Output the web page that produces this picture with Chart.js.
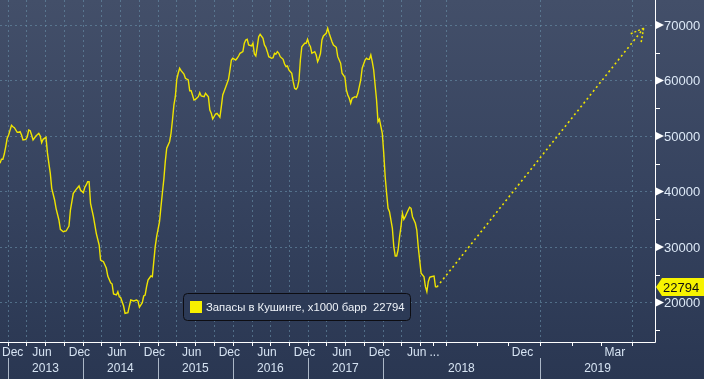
<!DOCTYPE html>
<html lang="ru">
<head>
<meta charset="UTF-8">
<title>Cushing stocks</title>
<script src="https://cdn.jsdelivr.net/npm/chart.js@4/dist/chart.umd.min.js"></script>
<style>
  html, body { margin: 0; padding: 0; background: #2b3954; }
  canvas { display: block; }
</style>
</head>
<body>
<canvas id="chart" width="704" height="379"></canvas>
<script>
// weekly stocks, week 0 = 2012-11-23
const firstWeek = '2012-11-23';
const weeks = [0,1,2,3,4,5,6,8,9,10,12,13,14,15,16,18,19,20,21,22,23,25,27,28,29,30,32,33,34,35,36,38,39,41,42,44,46,48,49,51,53,55,56,58,59,60,61,62,63,65,67,69,70,72,74,75,77,78,79,81,82,83,84,86,87,89,90,91,93,95,96,97,99,100,101,102,103,105,106,107,108,109,111,112,113,114,115,116,118,119,120,121,122,123,124,125,126,128,129,131,132,133,135,136,138,139,140,142,143,145,146,147,148,150,151,153,154,155,157,158,159,160,161,162,164,165,166,167,169,170,171,172,173,175,176,177,178,179,180,181,183,184,185,186,187,189,190,191,192,193,194,195,197,198,199,200,201,203,204,205,206,207,208,209,210,212,213,214,215,216,217,219,220,221,222,223,224,225,227,228,229,231,232,234,235,237,238,240,241,242,243,244,245,247,248,249,250,251,252,254,255,256,257,258,259,260,261,262,263,264,266,267,268,269,270,271,273,274,275,276,277,278,279,280,281,282,283,285,286,287,289,290,291,292,293,295,296,297,298,299,300,302,303,304];
const stocks = [45080,45800,45800,46750,48070,49580,50180,51930,51670,51490,50670,50670,50770,50180,49280,49400,49870,51080,50950,50180,49280,50000,50480,50000,48790,49400,49760,46990,45080,43280,40570,38470,36970,34860,33190,32750,32880,33780,36660,39670,40390,40990,40270,39780,40750,41170,41760,41760,37870,35460,32460,30360,27650,27350,26160,24770,23560,23330,21530,21350,21940,21040,20860,19360,18050,18160,19360,20450,20270,20450,20270,19130,19960,21170,21350,22840,24050,24770,24640,27350,30050,31850,34560,37260,39780,42200,45370,47780,48970,50480,52880,55580,57080,60220,61300,62200,61770,61170,60400,60090,58160,58160,56490,56610,57080,57800,57210,57080,57690,57080,54680,54090,53060,53960,54090,53370,55280,57390,58770,59490,60220,61890,63690,64000,63690,64000,64410,64900,65190,66700,67300,67420,66400,66220,66700,64770,64410,66090,67890,68320,67600,66400,65980,65190,64290,64000,64110,64900,64770,65190,64900,64290,63820,62970,62490,62610,61890,61300,59780,58590,58410,58770,59960,63690,66090,66700,66700,67420,66580,66090,64900,65190,64590,63390,64000,64900,67300,68020,68500,69400,68500,66990,66400,65980,64290,63100,61300,60580,58290,57390,56790,55890,56790,57080,56970,57690,58880,60090,62200,63690,64000,63820,63820,64590,63390,61890,59190,56490,52580,53010,50480,46880,42660,39670,36970,36360,33370,30050,28370,28370,29460,31850,33650,36070,34990,35460,36070,37150,36970,35460,34270,33060,30050,27650,25260,24640,22840,21940,23740,24540,24640,24770,22840,22794];

// dotted projection
const targetDate = '2019-04-12';
const targetValue = 69400;

const seriesName = 'Запасы в Кушинге, x1000 барр';
const yMajor = [20000, 30000, 40000, 50000, 60000, 70000];
const yMinor = [15000, 25000, 35000, 45000, 55000, 65000];
const monthLabels = ['Dec', 'Jun', 'Dec', 'Jun', 'Dec', 'Jun', 'Dec', 'Jun', 'Dec', 'Jun', 'Dec', 'Jun', 'Dec', 'Mar'];
const monthLabelDates = ['2012-12-15', '2013-06-15', '2013-12-15', '2014-06-15', '2014-12-15', '2015-06-15', '2015-12-15',
  '2016-06-15', '2016-12-15', '2017-06-15', '2017-12-15', '2018-06-15', '2018-12-15', '2019-03-15'];
const years = ['2013', '2014', '2015', '2016', '2017', '2018', '2019'];
const extraTickDates = ['2018-09-01', '2018-11-01', '2018-12-01', '2019-02-01', '2019-03-01'];

const yellow = '#efe400';

// axis: history months up to the break, wider spacing after it
const DAY = 86400000;
const dayNum = s => Date.parse(s + 'T00:00:00Z') / DAY;
const histStart = dayNum('2013-01-01');
const breakDay = dayNum('2018-10-01');
function axisPos(d) {
  return d < breakDay ? (d - histStart) / 30.44 : 70 + (d - breakDay) / 30.44 * 5;
}

const w0 = dayNum(firstWeek);
const histPoints = weeks.map((w, i) => ({ x: axisPos(w0 + 7 * w), y: stocks[i] }));
const lastPoint = histPoints[histPoints.length - 1];
const projPoints = [lastPoint, { x: axisPos(dayNum(targetDate)), y: targetValue }];

// quarterly grid
const gridDates = [];
for (let y = 2013; y <= 2019; y++) {
  for (const m of ['01', '04', '07', '10']) {
    const d = y + '-' + m + '-01';
    if (dayNum(d) <= dayNum('2019-04-01')) gridDates.push(d);
  }
}

const bbg = {
  id: 'bbg',
  beforeDraw(chart) {
    const { ctx, width, height } = chart;
    const g = ctx.createLinearGradient(0, 0, 0, height);
    g.addColorStop(0, '#434f69');
    g.addColorStop(0.5, '#36435f');
    g.addColorStop(1, '#2a3752');
    ctx.save();
    ctx.fillStyle = g;
    ctx.fillRect(0, 0, width, height);
    ctx.restore();
  },
  beforeDatasetsDraw(chart) {
    const { ctx, chartArea: a, scales: { x, y } } = chart;
    ctx.save();
    // grid
    ctx.strokeStyle = 'rgba(105,145,170,0.6)';
    ctx.lineWidth = 1;
    ctx.setLineDash([2, 3]);
    for (const v of yMajor) {
      const py = Math.round(y.getPixelForValue(v)) + 0.5;
      ctx.beginPath(); ctx.moveTo(a.left, py); ctx.lineTo(a.right, py); ctx.stroke();
    }
    for (const d of gridDates) {
      const px = Math.round(x.getPixelForValue(axisPos(dayNum(d)))) + 0.5;
      if (px < a.left || px > a.right) continue;
      ctx.beginPath(); ctx.moveTo(px, a.top); ctx.lineTo(px, a.bottom); ctx.stroke();
    }
    ctx.setLineDash([]);

    // axis lines
    ctx.strokeStyle = '#ffffff';
    ctx.beginPath();
    ctx.moveTo(a.left, a.bottom + 0.5); ctx.lineTo(a.right + 0.5, a.bottom + 0.5);
    ctx.moveTo(a.right + 0.5, a.top); ctx.lineTo(a.right + 0.5, a.bottom + 0.5);
    ctx.stroke();

    // y ticks and labels
    for (const v of yMinor) {
      const py = Math.round(y.getPixelForValue(v)) + 0.5;
      ctx.beginPath(); ctx.moveTo(a.right, py); ctx.lineTo(a.right + 5, py); ctx.stroke();
    }
    ctx.font = '13px "Liberation Sans", Arial, sans-serif';
    ctx.textBaseline = 'middle';
    ctx.textAlign = 'left';
    for (const v of yMajor) {
      const py = y.getPixelForValue(v);
      ctx.fillStyle = '#ffffff';
      ctx.beginPath();
      ctx.moveTo(a.right + 1, py - 4); ctx.lineTo(a.right + 9, py); ctx.lineTo(a.right + 1, py + 4);
      ctx.closePath(); ctx.fill();
      ctx.fillStyle = '#dde9f7';
      ctx.fillText(String(v), a.right + 9, py + 1);
    }

    // x ticks
    ctx.strokeStyle = '#ffffff';
    for (const d of gridDates.concat(extraTickDates)) {
      const px = Math.round(x.getPixelForValue(axisPos(dayNum(d)))) + 0.5;
      if (px < a.left || px > a.right) continue;
      ctx.beginPath(); ctx.moveTo(px, a.bottom); ctx.lineTo(px, a.bottom + 4); ctx.stroke();
    }

    // month labels
    ctx.font = '12px "Liberation Sans", Arial, sans-serif';
    ctx.fillStyle = '#d6e3f2';
    ctx.textAlign = 'center';
    monthLabels.forEach((t, i) => {
      let px = x.getPixelForValue(axisPos(dayNum(monthLabelDates[i])));
      const hw = ctx.measureText(t).width / 2;
      px = Math.max(px, a.left + hw + 2);
      ctx.fillText(t, px, a.bottom + 11);
      if (monthLabelDates[i] === '2018-06-15') {
        ctx.textAlign = 'left';
        ctx.fillText('...', px + hw + 3, a.bottom + 11);
        ctx.textAlign = 'center';
      }
    });

    // year row
    ctx.strokeStyle = 'rgba(215,225,238,0.75)';
    years.forEach((yr, i) => {
      const x0 = x.getPixelForValue(axisPos(dayNum(yr + '-01-01')));
      let x1 = x.getPixelForValue(axisPos(dayNum((+yr + 1) + '-01-01')));
      x1 = Math.min(x1, a.right);
      const sx = Math.round(x0) + 0.5;
      ctx.beginPath(); ctx.moveTo(sx, a.bottom + 16); ctx.lineTo(sx, chart.height); ctx.stroke();
      ctx.fillText(yr, (x0 + x1) / 2, a.bottom + 27);
    });
    ctx.restore();
  },
  afterDatasetsDraw(chart) {
    const { ctx, chartArea: a, scales: { y } } = chart;
    ctx.save();
    // arrow head on projection
    const pts = chart.getDatasetMeta(1).data;
    const p0 = pts[0], p1 = pts[1];
    const ang = Math.atan2(p1.y - p0.y, p1.x - p0.x) + Math.PI;
    ctx.strokeStyle = yellow;
    ctx.lineWidth = 1.5;
    ctx.setLineDash([2, 2]);
    for (const s of [-1, 1]) {
      ctx.beginPath();
      ctx.moveTo(p1.x, p1.y);
      ctx.lineTo(p1.x + 14 * Math.cos(ang + s * 0.5), p1.y + 14 * Math.sin(ang + s * 0.5));
      ctx.stroke();
    }
    ctx.setLineDash([]);

    // last value tag
    const ty = y.getPixelForValue(lastPoint.y);
    const tx = a.right + 1;
    ctx.fillStyle = '#f7f300';
    ctx.beginPath();
    ctx.moveTo(tx, ty); ctx.lineTo(tx + 6, ty - 9); ctx.lineTo(chart.width, ty - 9);
    ctx.lineTo(chart.width, ty + 9); ctx.lineTo(tx + 6, ty + 9); ctx.closePath(); ctx.fill();
    ctx.fillStyle = '#111111';
    ctx.font = '13px "Liberation Sans", Arial, sans-serif';
    ctx.textBaseline = 'middle';
    ctx.fillText(String(lastPoint.y), tx + 7, ty + 1);

    // legend
    const lx = 183.5, ly = 293.5, lw = 227, lh = 27;
    ctx.fillStyle = 'rgba(45,58,86,0.96)';
    ctx.strokeStyle = '#0d0d12';
    ctx.lineWidth = 1;
    ctx.beginPath();
    ctx.roundRect(lx, ly, lw, lh, 4);
    ctx.fill(); ctx.stroke();
    ctx.fillStyle = '#f7f000';
    ctx.fillRect(190, 301, 12, 12);
    ctx.fillStyle = '#eef2f8';
    ctx.font = '11.3px "Liberation Sans", Arial, sans-serif';
    ctx.textAlign = 'left';
    ctx.fillText(seriesName + '  ' + lastPoint.y, 206, ly + lh / 2 + 1);
    ctx.restore();
  }
};

new Chart(document.getElementById('chart'), {
  type: 'line',
  data: {
    datasets: [
      { label: seriesName, data: histPoints, borderColor: yellow, borderWidth: 1.4, pointRadius: 0, tension: 0 },
      { label: 'proj', data: projPoints, borderColor: yellow, borderWidth: 1.6, borderDash: [2, 3], pointRadius: 0, tension: 0 }
    ]
  },
  options: {
    responsive: false,
    animation: false,
    layout: { padding: 0 },
    plugins: { legend: { display: false }, tooltip: { enabled: false } },
    scales: {
      x: {
        type: 'linear', min: -1.28, max: 103.52,
        grid: { display: false }, border: { display: false }, ticks: { display: false },
        afterFit: s => { s.height = 37; }
      },
      y: {
        type: 'linear', position: 'right', min: 12880, max: 74500,
        grid: { display: false }, border: { display: false }, ticks: { display: false },
        afterFit: s => { s.width = 49; }
      }
    }
  },
  plugins: [bbg]
});
</script>
</body>
</html>
